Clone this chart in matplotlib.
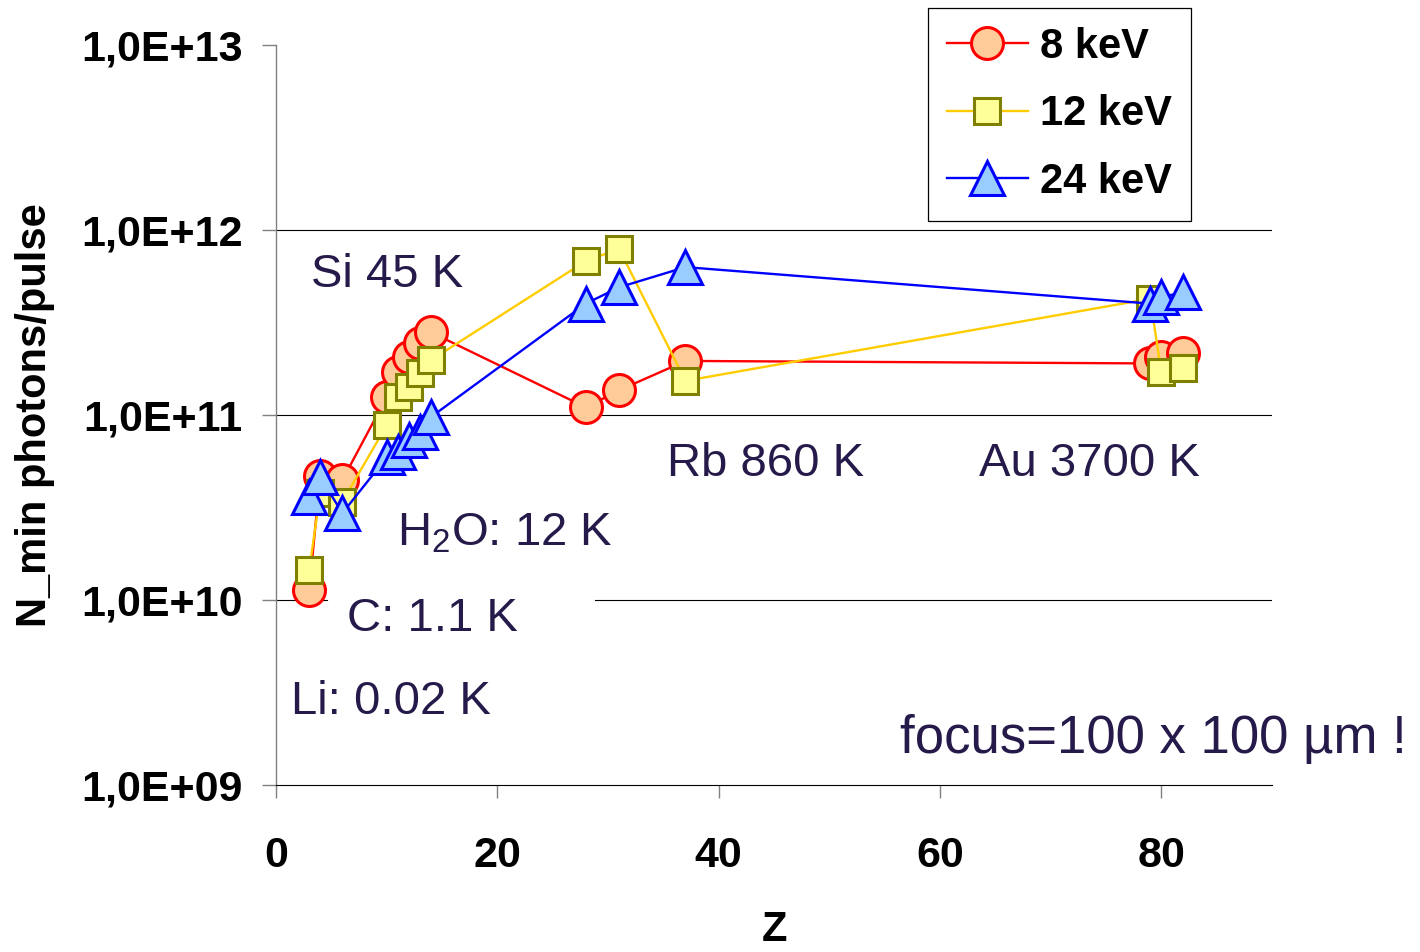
import numpy as np
import matplotlib
matplotlib.use("Agg")
from matplotlib import pyplot as plt
from matplotlib.ticker import FixedLocator, FuncFormatter

plt.rcParams['font.family'] = ['Liberation Sans', 'DejaVu Sans']
plt.rcParams['mathtext.fontset'] = 'custom'
plt.rcParams['mathtext.rm'] = 'Liberation Sans'

# atomic number Z for each sample
z = [3, 4, 6, 10, 11, 12, 13, 14, 28, 31, 37, 79, 80, 82]

# minimum photons per pulse
n_8kev = [1.13e10, 4.7e10, 4.45e10, 1.25e11, 1.7e11, 2.05e11, 2.45e11, 2.8e11,
          1.1e11, 1.36e11, 1.96e11, 1.9e11, 2.05e11, 2.15e11]
n_12kev = [1.45e10, 3.8e10, 3.4e10, 8.8e10, 1.25e11, 1.42e11, 1.69e11, 1.98e11,
           6.8e11, 7.9e11, 1.53e11, 4.25e11, 1.7e11, 1.8e11]
n_24kev = [3.6e10, 4.6e10, 2.95e10, 5.9e10, 6.3e10, 7.3e10, 8.1e10, 9.75e10,
           4.0e11, 4.9e11, 6.3e11, 4.0e11, 4.35e11, 4.6e11]

y_ticks = [1e9, 1e10, 1e11, 1e12, 1e13]
x_ticks = [0, 20, 40, 60, 80]

txt_col = '#261A4A'

fig = plt.figure(figsize=(14.2, 9.52), dpi=100)
ax = fig.add_axes([276 / 1420, 1 - 785 / 952, 996 / 1420, 740 / 952])
ax.set_yscale('log')
ax.set_xlim(0, 90)
ax.set_ylim(1e9, 1e13)

# horizontal grid lines (the 1e10 one is interrupted by the "C" label box)
ax.axhline(1e11, color='black', lw=0.8, zorder=1)
ax.axhline(1e12, color='black', lw=0.8, zorder=1)
ax.axhline(1e10, xmin=0, xmax=0.051, color='black', lw=0.8, zorder=1)
ax.axhline(1e10, xmin=0.32, xmax=1, color='black', lw=0.8, zorder=1)

ax.plot(z, n_8kev, '-o', color='#FF0000', lw=1.7, ms=23, mfc='#FFCC99',
        mec='#FF0000', mew=2.2, label='8 keV', zorder=3)
ax.plot(z, n_12kev, '-s', color='#FFCC00', lw=1.7, ms=19, mfc='#FFFF99',
        mec='#808000', mew=2.2, label='12 keV', zorder=4)
ax.plot(z, n_24kev, '-^', color='#0000FF', lw=1.7, ms=25, mfc='#99CCFF',
        mec='#0000FF', mew=2.2, label='24 keV', zorder=5)

for s in ['top', 'right']:
    ax.spines[s].set_visible(False)
ax.spines['left'].set_color('#808080')
ax.spines['left'].set_linewidth(1.0)
ax.spines['bottom'].set_color('black')
ax.spines['bottom'].set_linewidth(0.8)

ax.yaxis.set_major_locator(FixedLocator(y_ticks))
ax.yaxis.set_minor_locator(FixedLocator([]))
ax.yaxis.set_major_formatter(FuncFormatter(
    lambda v, p: '1,0E+%02d' % int(round(np.log10(v)))))
ax.set_xticks(x_ticks)
ax.tick_params(axis='y', length=10, width=1.0, color='#808080', pad=14,
               labelsize=31)
ax.tick_params(axis='x', length=9.5, width=1.0, color='#808080', pad=27,
               labelsize=31)
for lab in ax.get_xticklabels() + ax.get_yticklabels():
    lab.set_fontweight('bold')

ax.set_ylabel('N_min photons/pulse', fontsize=30, fontweight='bold')
ax.yaxis.set_label_coords(-0.222, 0.5)
ax.set_xlabel('Z', fontsize=30, fontweight='bold')
ax.xaxis.set_label_coords(0.501, -0.169)

tk = dict(fontsize=34, color=txt_col, va='baseline', ha='left', zorder=2)
ax.text(3.2, 4.92e11, 'Si 45 K', **tk)
ax.text(35.3, 4.68e10, 'Rb 860 K', **tk)
ax.text(63.5, 4.68e10, 'Au 3700 K', **tk)
ax.text(10.9, 1.98e10, r'H$_\mathregular{2}$O: 12 K', **tk)
ax.text(6.4, 6.8e9, 'C: 1.1 K', **tk)
ax.text(1.4, 2.42e9, 'Li: 0.02 K', **tk)
fig.text(900 / 1420, 1 - 753 / 952, 'focus=100 x 100 µm !', fontsize=38,
         color=txt_col, va='baseline', ha='left')

leg = ax.legend(loc='upper right', bbox_to_anchor=(1191 / 1420, 1 - 8 / 952),
                bbox_transform=fig.transFigure, fancybox=False, framealpha=1,
                edgecolor='black', handlelength=1.95, handletextpad=0.3,
                labelspacing=0.66, borderpad=0.45, borderaxespad=0,
                prop={'size': 30, 'weight': 'bold'})
leg.get_frame().set_linewidth(0.9)

fig.savefig('out.png', dpi=100)
